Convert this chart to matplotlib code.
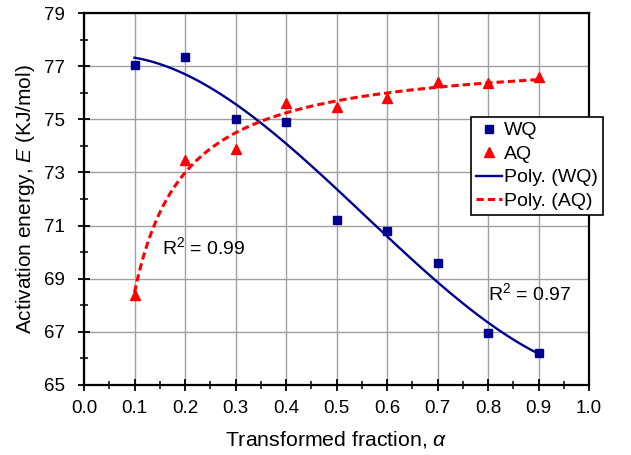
import numpy as np
import matplotlib
matplotlib.use("Agg")
import matplotlib.pyplot as plt
from matplotlib.ticker import MultipleLocator, FixedLocator, FormatStrFormatter

plt.rcParams['font.family'] = ['Liberation Sans', 'DejaVu Sans']
plt.rcParams['mathtext.fontset'] = 'custom'
plt.rcParams['mathtext.rm'] = 'Liberation Sans'
plt.rcParams['mathtext.it'] = 'Liberation Sans:italic'

alpha = [0.1, 0.2, 0.3, 0.4, 0.5, 0.6, 0.7, 0.8, 0.9]
wq = [77.05, 77.35, 75.0, 74.9, 71.2, 70.8, 69.6, 66.95, 66.2]
aq = [68.4, 73.45, 73.9, 75.6, 75.45, 75.8, 76.4, 76.35, 76.6]
y_ticks = [65, 67, 69, 71, 73, 75, 77, 79]

fig = plt.figure(figsize=(6.31, 4.55), dpi=100)
ax = fig.add_axes([84/631, 1-385/455, (589-84)/631, (385-13)/455])

x = np.array(alpha)
xs = np.linspace(0.1, 0.9, 300)
cw = np.polyfit(x, np.array(wq), 3)
ca = np.polyfit(1/x, np.array(aq), 1)

ax.plot(alpha, wq, 's', color='#000090', ms=6, label='WQ', zorder=3)
ax.plot(alpha, aq, '^', color='#ff0000', ms=7.5, label='AQ', zorder=3)
ax.plot(xs, np.polyval(cw, xs), '-', color='#000090', lw=1.7, label='Poly. (WQ)')
ax.plot(xs, np.polyval(ca, 1/xs), '--', color='#ff0000', lw=2.2, dashes=(2.4, 1.3), label='Poly. (AQ)')

ax.set_xlim(0, 1.0)
ax.set_ylim(65, 79)
ax.xaxis.set_major_locator(MultipleLocator(0.1))
ax.xaxis.set_minor_locator(MultipleLocator(0.05))
ax.xaxis.set_major_formatter(FormatStrFormatter('%.1f'))
ax.yaxis.set_major_locator(FixedLocator(y_ticks))
ax.yaxis.set_minor_locator(MultipleLocator(1))
ax.grid(True, which='major', color='#a0a0a0', lw=1)
ax.set_axisbelow(True)
for s in ax.spines.values():
    s.set_linewidth(1.6)
ax.tick_params(which='major', direction='inout', length=9, width=1.3, labelsize=13.5)
ax.tick_params(axis='x', which='major', pad=6)
ax.tick_params(axis='y', which='major', pad=9)
ax.tick_params(which='minor', direction='inout', length=6, width=1.1)

ax.set_xlabel(r'Transformed fraction, $\it{\alpha}$', fontsize=15.3, labelpad=9)
ax.set_ylabel(r'Activation energy, $\it{E}$ (KJ/mol)', fontsize=15, labelpad=5)

ax.text(0.155, 70.2, 'R$^2$ = 0.99', fontsize=14, va='center')
ax.text(0.80, 68.45, 'R$^2$ = 0.97', fontsize=14, va='center')

leg = ax.legend(loc='upper left', bbox_to_anchor=(471/631, 1-117/455), bbox_transform=fig.transFigure,
                fancybox=False, edgecolor='black', framealpha=1, fontsize=14,
                borderpad=0.25, labelspacing=0.3, handlelength=1.35, handletextpad=0.1,
                borderaxespad=0)
leg.get_frame().set_linewidth(1.2)

fig.savefig('out.png', dpi=100)
